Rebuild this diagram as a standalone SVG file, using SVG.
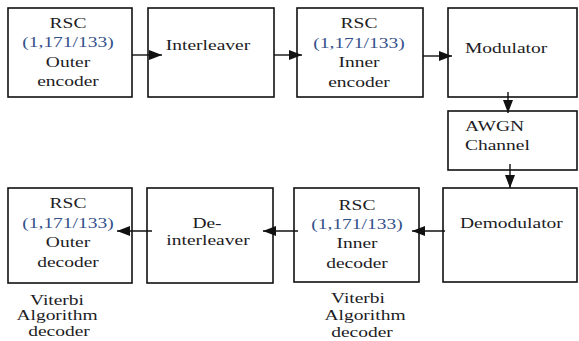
<svg xmlns="http://www.w3.org/2000/svg" width="579" height="341" viewBox="0 0 579 341">
<defs>
<style>
rect.box{fill:#fff;stroke:#111;stroke-width:1.6}
text{font-family:"Liberation Serif","Times New Roman",serif;font-size:15px;fill:#1c1c24;text-anchor:middle}
text.l{text-anchor:start}
text.n{fill:#34508a}
.conn line{stroke:#111;stroke-width:1.4;fill:none}
</style>
<marker id="ah" viewBox="0 0 10 10" refX="10" refY="5" markerWidth="13" markerHeight="10" markerUnits="userSpaceOnUse" orient="auto" preserveAspectRatio="none">
<path d="M0,0 L10,5 L0,10 z" fill="#111"/>
</marker>
</defs>
<rect width="579" height="341" fill="#fff"/>

<g id="outer-encoder">
<rect class="box" x="8" y="8" width="124" height="89"/>
<text transform="translate(68 28) scale(1.3 1)">RSC</text>
<text class="n" transform="translate(68 47) scale(1.3 1)">(1,171/133)</text>
<text transform="translate(68 67) scale(1.3 1)">Outer</text>
<text transform="translate(68 86) scale(1.3 1)">encoder</text>
</g>

<g id="interleaver">
<rect class="box" x="148" y="8" width="126" height="89"/>
<text transform="translate(208 50) scale(1.3 1)">Interleaver</text>
</g>

<g id="inner-encoder">
<rect class="box" x="297" y="8" width="126" height="89"/>
<text transform="translate(359 28) scale(1.3 1)">RSC</text>
<text class="n" transform="translate(359 48) scale(1.3 1)">(1,171/133)</text>
<text transform="translate(359 67) scale(1.3 1)">Inner</text>
<text transform="translate(359 87) scale(1.3 1)">encoder</text>
</g>

<g id="modulator">
<rect class="box" x="448" y="8" width="129" height="89"/>
<text class="l" transform="translate(465 53) scale(1.3 1)">Modulator</text>
</g>

<g id="awgn">
<rect class="box" x="448" y="111" width="129" height="59"/>
<text class="l" transform="translate(465 131) scale(1.3 1)">AWGN</text>
<text class="l" transform="translate(465 150) scale(1.3 1)">Channel</text>
</g>

<g id="demodulator">
<rect class="box" x="443" y="188" width="134" height="94"/>
<text class="l" transform="translate(460 228) scale(1.3 1)">Demodulator</text>
</g>

<g id="inner-decoder">
<rect class="box" x="294" y="188" width="125" height="94"/>
<text transform="translate(357 210) scale(1.3 1)">RSC</text>
<text class="n" transform="translate(357 229) scale(1.3 1)">(1,171/133)</text>
<text transform="translate(357 248) scale(1.3 1)">Inner</text>
<text transform="translate(357 268) scale(1.3 1)">decoder</text>
</g>

<g id="deinterleaver">
<rect class="box" x="147" y="188" width="126" height="95"/>
<text transform="translate(207 228) scale(1.3 1)">De-</text>
<text transform="translate(208 245) scale(1.3 1)">interleaver</text>
</g>

<g id="outer-decoder">
<rect class="box" x="8" y="188" width="124" height="95"/>
<text transform="translate(68 208) scale(1.3 1)">RSC</text>
<text class="n" transform="translate(68 228) scale(1.3 1)">(1,171/133)</text>
<text transform="translate(68 247) scale(1.3 1)">Outer</text>
<text transform="translate(68 267) scale(1.3 1)">decoder</text>
</g>

<g id="viterbi-left">
<text transform="translate(57 305) scale(1.3 1)">Viterbi</text>
<text transform="translate(57 320) scale(1.3 1)">Algorithm</text>
<text transform="translate(59 336) scale(1.3 1)">decoder</text>
</g>

<g id="viterbi-right">
<text transform="translate(358 303) scale(1.3 1)">Viterbi</text>
<text transform="translate(365 320) scale(1.3 1)">Algorithm</text>
<text transform="translate(362 337) scale(1.3 1)">decoder</text>
</g>

<g class="conn" id="connectors">
<line x1="132" y1="55" x2="162" y2="55" marker-end="url(#ah)"/>
<line x1="274" y1="55" x2="302" y2="55" marker-end="url(#ah)"/>
<line x1="423" y1="56" x2="452" y2="56" marker-end="url(#ah)"/>
<line x1="508" y1="92" x2="508" y2="113" marker-end="url(#ah)"/>
<line x1="510" y1="164" x2="510" y2="188" marker-end="url(#ah)"/>
<line x1="445" y1="231" x2="412" y2="231" marker-end="url(#ah)"/>
<line x1="298" y1="231" x2="263" y2="231" marker-end="url(#ah)"/>
<line x1="152" y1="231" x2="117" y2="231" marker-end="url(#ah)"/>
</g>
</svg>
